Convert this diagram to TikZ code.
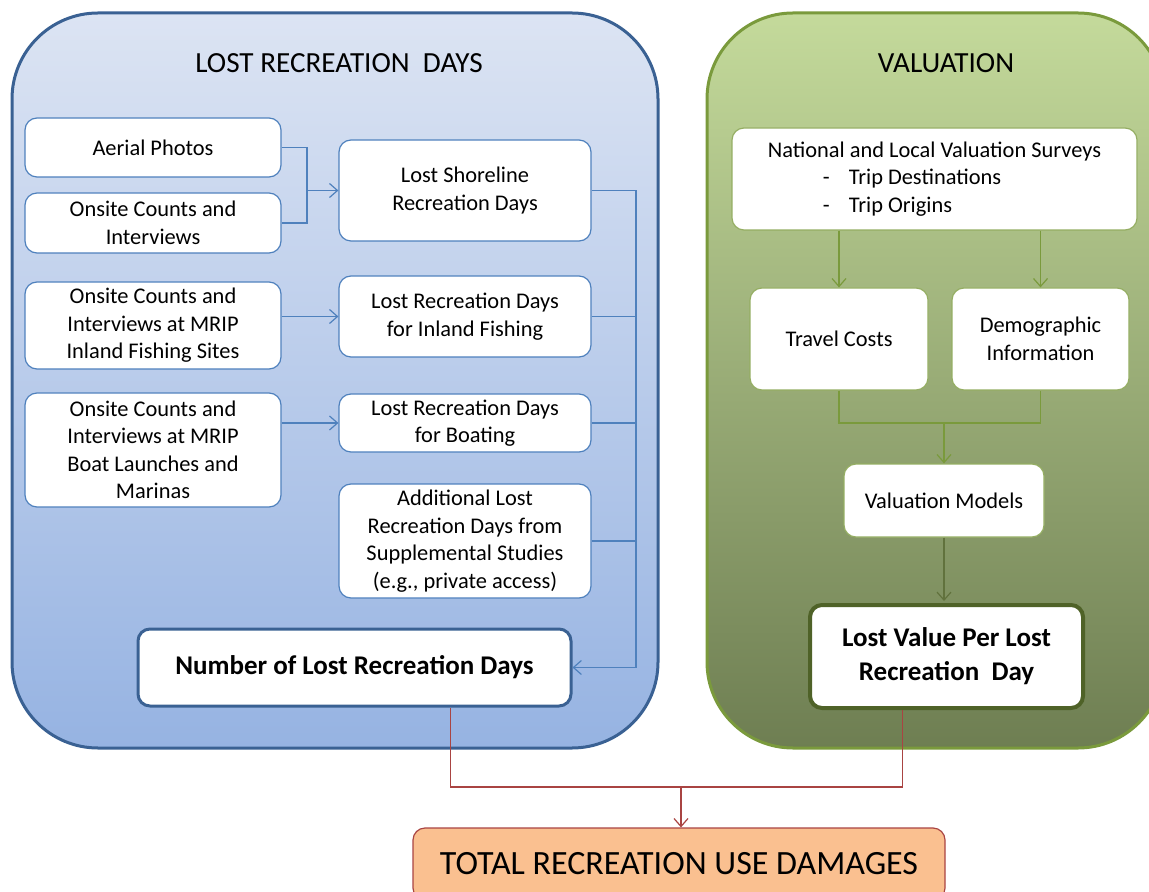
\documentclass[tikz,border=0pt]{standalone}
\usepackage{fontspec}
\setmainfont{Carlito}
\usepackage{tikz}
\usetikzlibrary{arrows.meta,positioning,calc}

\definecolor{panelblue}{HTML}{3A6193}
\definecolor{lineblue}{HTML}{4F81BD}
\definecolor{ltop}{HTML}{DCE4F3}
\definecolor{lbot}{HTML}{96B3E2}
\definecolor{panelgreen}{HTML}{7A9A3C}
\definecolor{gtop}{HTML}{C4DA9B}
\definecolor{gmid}{HTML}{A4B87B}
\definecolor{gbot}{HTML}{6E7E52}
\definecolor{darkgreen}{HTML}{4F6228}
\definecolor{linered}{HTML}{A94442}
\definecolor{totalfill}{HTML}{FAC090}

\begin{document}
\begin{tikzpicture}[x=0.5pt,y=-0.5pt,>={Straight Barb[length=4pt,width=7pt]},
  every node/.style={font=\fontsize{11.2}{13.75}\selectfont},
  lbox/.style={draw=lineblue,fill=white,rounded corners=6pt,line width=0.6pt,align=center,inner sep=1pt},
  rbox/.style={draw=panelgreen!80,fill=white,rounded corners=6pt,line width=0.6pt,align=center,inner sep=1pt},
  bconn/.style={draw=lineblue,line width=0.6pt},
  gconn/.style={draw=panelgreen,line width=0.6pt},
  rconn/.style={draw=linered,line width=0.6pt}]
  \useasboundingbox (0,0) rectangle (1149,892);
  \clip (0,0) rectangle (1149,892);
  % panels
  \shadedraw[rounded corners=43pt,top color=ltop,bottom color=lbot,
    draw=panelblue,line width=1.5pt] (12,13) rectangle (658,748);
  \shadedraw[rounded corners=43pt,top color=gtop,middle color=gmid,bottom color=gbot,
    draw=panelgreen,line width=1.5pt] (707,13) rectangle (1164,748);
  \node[font=\fontsize{14.6}{17}\selectfont] (ltitle) at (339,63) {LOST RECREATION\ \ DAYS};
  \node[font=\fontsize{14.6}{17}\selectfont] (rtitle) at (946,63) {VALUATION};

  % lost recreation days
  \node[lbox,minimum width=128pt,minimum height=29.5pt] (A1) at (153,147.5) {Aerial Photos};
  \node[lbox,minimum width=128pt,minimum height=30pt] (A2) at (153,223) {Onsite Counts and\\Interviews};
  \node[lbox,minimum width=128pt,minimum height=43.5pt] (A3) at (153,325.5) {Onsite Counts and\\Interviews at MRIP\\Inland Fishing Sites};
  \node[lbox,minimum width=128pt,minimum height=57pt] (A4) at (153,450) {Onsite Counts and\\Interviews at MRIP\\Boat Launches and\\Marinas};
  \node[lbox,minimum width=126pt,minimum height=50.5pt] (B1) at (465,190.5) {Lost Shoreline\\Recreation Days};
  \node[lbox,minimum width=126pt,minimum height=40.5pt] (B2) at (465,316.5) {Lost Recreation Days\\for Inland Fishing};
  \node[lbox,minimum width=126pt,minimum height=29pt] (B3) at (465,423) {Lost Recreation Days\\for Boating};
  \node[lbox,minimum width=126pt,minimum height=57pt] (B4) at (465,541) {Additional Lost\\Recreation Days from\\Supplemental Studies\\(e.g., private access)};
  \node[lbox,draw=panelblue,line width=1.5pt,minimum width=216.5pt,minimum height=38.5pt,
    font=\bfseries\fontsize{13.5}{17}\selectfont] (N) at (354.5,667.5) {Number of Lost Recreation Days};

  \coordinate (J1) at (307,0);
  \coordinate (R) at (636,0);
  \draw[bconn] (A1.east) -| (J1 |- A2.east) -- (A2.east);
  \draw[bconn,->] (J1 |- B1.west) -- (B1.west);
  \draw[bconn,->] (A3.east |- B2.west) -- (B2.west);
  \draw[bconn,->] (A4.east |- B3.west) -- (B3.west);
  \draw[bconn] (B2.east) -- (B2.east -| R);
  \draw[bconn] (B3.east) -- (B3.east -| R);
  \draw[bconn] (B4.east) -- (B4.east -| R);
  \draw[bconn,->] (B1.east) -| (R |- N.east) -- (N.east);

  % valuation
  \node[rbox,minimum width=202.5pt,minimum height=51pt,align=left] (S) at (934.5,179)
    {National and Local Valuation Surveys\\\hspace*{27.5pt}-\hspace{9.5pt}Trip Destinations\\\hspace*{27.5pt}-\hspace{9.5pt}Trip Origins};
  \node[rbox,minimum width=89pt,minimum height=51pt] (TC) at (839,339) {Travel Costs};
  \node[rbox,minimum width=88.5pt,minimum height=51pt] (DI) at (1040.5,339) {Demographic\\Information};
  \node[rbox,minimum width=100pt,minimum height=36.5pt] (VM) at (944,500.5) {Valuation Models};
  \node[rbox,draw=darkgreen,line width=2pt,minimum width=136.5pt,minimum height=51.5pt,
    font=\bfseries\fontsize{13.5}{17}\selectfont] (LV) at (946.5,656.5) {Lost Value Per Lost\\Recreation\ \ Day};

  \coordinate (gj) at (944,423);
  \draw[gconn,->] (TC.north |- S.south) -- (TC.north);
  \draw[gconn,->] (DI.north |- S.south) -- (DI.north);
  \draw[gconn] (TC.south) |- (gj) -| (DI.south);
  \draw[gconn,->] (gj) -- (VM.north);
  \draw[gconn,draw=darkgreen!90,->,shorten >=1pt] (VM.south) -- (VM.south |- LV.north);

  % total
  \node[draw=linered,fill=totalfill,rounded corners=6pt,line width=0.6pt,minimum width=266pt,minimum height=36pt,
    font=\fontsize{17}{20}\selectfont] (T) at (679,864) {TOTAL RECREATION USE DAMAGES};
  \coordinate (rj) at (681,787);
  \draw[rconn] ([xshift=48pt]N.south) |- (rj) -| ([xshift=-22pt]LV.south);
  \draw[rconn,->] (rj) -- (rj |- T.north);
\end{tikzpicture}
\end{document}
